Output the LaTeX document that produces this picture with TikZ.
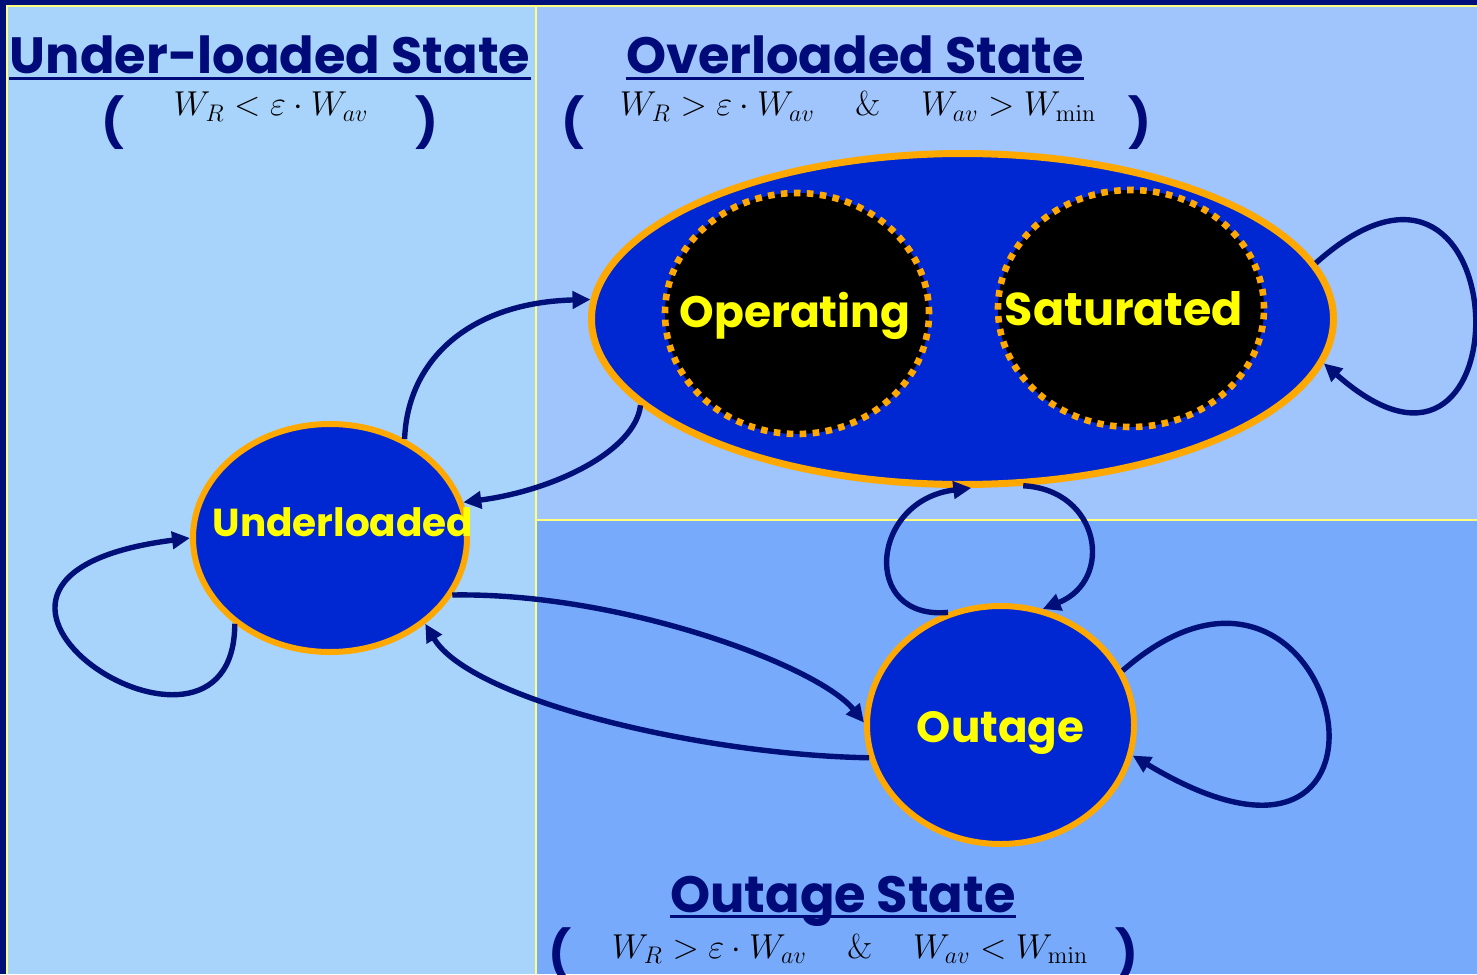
\documentclass[tikz,border=0pt]{standalone}
\usepackage[no-math]{fontspec}
\setmainfont{Poppins}
\usetikzlibrary{arrows.meta,shapes.geometric,positioning}
\definecolor{navy}{HTML}{001078}
\definecolor{titlenavy}{HTML}{000A78}
\definecolor{edgeyellow}{HTML}{FFFF80}
\definecolor{leftpanel}{HTML}{A8D4FC}
\definecolor{toppanel}{HTML}{A0C4FC}
\definecolor{botpanel}{HTML}{78AAFC}
\definecolor{stateblue}{HTML}{0028D2}
\definecolor{stateorange}{HTML}{FFA800}
\definecolor{textyellow}{HTML}{FFFF00}
\begin{document}
\begin{tikzpicture}[x=0.5pt, y=-0.5pt,
	state/.style = {ellipse, draw=stateorange, line width=3pt,
		fill=stateblue, inner sep=0pt},
	substate/.style = {ellipse, draw=stateorange, line width=3.3pt,
		dash pattern=on 3.3pt off 3.2pt, fill=black, inner sep=0pt},
	txt/.style = {text=textyellow, inner sep=0pt},
	title/.style = {text=titlenavy, font=\fontsize{25.5}{30}\selectfont\bfseries,
		inner sep=0pt, anchor=base},
	formula/.style = {font=\fontsize{18.5}{22}\selectfont, inner sep=0pt, anchor=base},
	paren/.style = {text=titlenavy, font=\fontsize{24}{28}\selectfont\bfseries, inner sep=0pt},
	uline/.style = {titlenavy, line width=1.5pt},
	trans/.style = {navy, line width=2.7pt, -{Triangle[length=9pt,width=8.5pt]}}
]
\useasboundingbox (0,0) rectangle (1477,974);
\clip (0,0) rectangle (1477,974);
\fill[navy] (0,0) rectangle (1477,974);
\fill[edgeyellow] (6,5) rectangle (1477,974);
\fill[leftpanel] (8,7) rectangle (535,974);
\fill[toppanel] (537,7) rectangle (1477,519);
\fill[botpanel] (537,521) rectangle (1477,974);

% titles
\node[title] (ttlunder) at (270,74) {Under-loaded State};
\node[title] (ttlover) at (855,74) {Overloaded State};
\node[title] (ttlout) at (843,912) {Outage State};
\foreach \t in {ttlunder,ttlover,ttlout}
	\draw[uline] ([yshift=-2.25pt]\t.base west) -- ([yshift=-2.25pt]\t.base east);

\node[formula] (fmunder) at (271,116) {$W_R<\varepsilon\cdot W_{av}$};
\node[formula] (fmover) at (858,116)
	{$W_R>\varepsilon\cdot W_{av}\hspace{1.1em}\&\hspace{1.1em}W_{av}>W_{\min}$};
\node[formula] (fmout) at (850,958)
	{$W_R>\varepsilon\cdot W_{av}\hspace{1.1em}\&\hspace{1.1em}W_{av}<W_{\min}$};
\node[paren] (plunder) at (113,123) {(};
\node[paren] (prunder) at (427,123) {)};
\node[paren] (plover) at (573,123) {(};
\node[paren] (prover) at (1140,123) {)};
\node[paren] (plout) at (560,955) {(};
\node[paren] (prout) at (1127,955) {)};

% states
\node[state, minimum width=137pt, minimum height=114pt,
	label={[txt, font=\fontsize{19.5}{22}\selectfont\bfseries, xshift=6.5pt, yshift=8pt]center:Underloaded}]
	(under) at (330,538) {};
\node[state, line width=3.5pt, minimum width=371pt, minimum height=165.5pt]
	(over) at (962.5,319) {};
\node[substate, minimum width=132pt, minimum height=120.5pt,
	label={[txt, font=\fontsize{22}{26}\selectfont\bfseries, xshift=-1pt, yshift=-1pt]center:Operating}]
	(oper) at (797,313.5) {};
\node[substate, minimum width=133pt, minimum height=118.5pt,
	label={[txt, font=\fontsize{23}{26}\selectfont\bfseries, xshift=-3.5pt]center:Saturated}]
	(satur) at (1131,308.5) {};
\node[state, minimum width=133.5pt, minimum height=119pt,
	label={[txt, font=\fontsize{21.8}{26}\selectfont\bfseries, yshift=-4pt]center:Outage}]
	(outage) at (1000.5,725) {};

% transitions
\draw[trans] (under.53) .. controls +(3,-80) and +(-120,3) .. (over.177);
\draw[trans] (over.195) .. controls +(-5,45) and +(92,-12) .. (under.15);
\draw[trans] (under.-25) .. controls +(168,-3) and +(-46,-57) .. (outage.179);
\draw[trans] (outage.194) .. controls +(-169,-3) and +(45,76) .. (under.-42);
\draw[trans] (under.222) .. controls +(0,185) and +(-315,40) .. (under.180);
\draw[trans] (over.9) .. controls +(205,-183) and +(206,182) .. (over.-7);
\draw[trans] (outage.115) .. controls +(-88,8) and +(-101,12) .. (over.-87);
\draw[trans] (over.-70) .. controls +(77,4) and +(72,-29) .. (outage.70);
\draw[trans] (outage.24) .. controls +(218,-191) and +(307,185) .. (outage.-13);
\end{tikzpicture}
\end{document}
